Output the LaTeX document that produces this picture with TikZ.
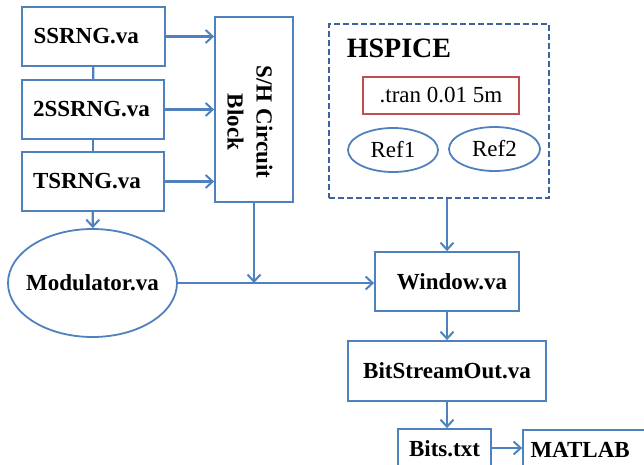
\documentclass[tikz,border=0pt]{standalone}
\usepackage{fontspec}
\setmainfont{Liberation Serif}
\usetikzlibrary{arrows.meta,shapes.geometric}
\definecolor{boxblue}{HTML}{4F81BD}
\definecolor{dashblue}{HTML}{3C649C}
\definecolor{boxred}{HTML}{C0504D}

\begin{document}
\begin{tikzpicture}[x=1pt, y=-1pt,
    box/.style={draw=boxblue, line width=1.8pt, rectangle, inner sep=0pt,
      font=\fontsize{23}{27}\selectfont\bfseries},
    oval/.style={draw=boxblue, line width=1.8pt, ellipse, inner sep=0pt},
    link/.style={draw=boxblue, line width=2.2pt},
    arr/.style={link, -{Straight Barb[length=7pt, width=13pt, line width=2pt]}}]
    \useasboundingbox (0,0) rectangle (644,464);
    \node [box, minimum width=143pt, minimum height=59pt, text width=120pt, align=left] (a) at (93.5, 36.5) {SSRNG.va};
    \node [box, minimum width=142pt, minimum height=59pt, text width=120pt, align=left] (b) at (93.0, 109.5) {2SSRNG.va};
    \node [box, minimum width=142pt, minimum height=59pt, text width=120pt, align=left] (c) at (93.0, 181.5) {TSRNG.va};
    \node [box, minimum width=78pt, minimum height=185pt] (d) at (254.0, 109.5) {};
    \node [rotate=-90, align=center, font=\fontsize{23}{29}\selectfont\bfseries] (d1) at (250.0, 122.0) {S/H Circuit\\Block};
    \node [oval, minimum width=169pt, minimum height=108pt, inner xsep=-12pt, font=\fontsize{23}{27}\selectfont\bfseries] (e) at (92.5, 283.0) {Modulator.va};
    \draw [link] (a) -- (b);
    \draw [link] (b) -- (c);
    \draw [arr] (c) -- (e);
    \draw [arr] (a.east) -- (a.east -| d.west);
    \draw [arr] (b.east) -- (b.east -| d.west);
    \draw [arr] (c.east) -- (c.east -| d.west);
    % HSPICE block
    \node [draw=dashblue, dash pattern=on 6pt off 3pt, line width=1.8pt, minimum width=220pt, minimum height=174pt] (f) at (439.0, 111.0) {};
    \node [font=\fontsize{28}{32}\selectfont\bfseries] (g) at (399.0, 48.0) {HSPICE};
    \node [draw=boxred, line width=1.8pt, minimum width=156pt, minimum height=37pt, inner sep=0pt, font=\fontsize{23}{27}\selectfont] (h) at (441.0, 95.5) {.tran 0.01 5m};
    \node [oval, minimum width=90pt, minimum height=44pt, font=\fontsize{23}{27}\selectfont] (i) at (393.0, 150.0) {Ref1};
    \node [oval, minimum width=91pt, minimum height=44pt, font=\fontsize{23}{27}\selectfont] (j) at (494.5, 149.0) {Ref2};
    % output chain
    \node [box, minimum width=144pt, minimum height=59pt, text width=120pt, align=right] (k) at (447.0, 281.5) {Window.va};
    \node [box, minimum width=198pt, minimum height=60pt] (l) at (447.0, 371.0) {BitStreamOut.va};
    \node [box, minimum width=93pt, minimum height=40pt] (m) at (444.5, 449.0) {Bits.txt};
    \node [box, minimum width=127pt, minimum height=40pt, text width=112pt, align=left] (n) at (586.5, 450.0) {MATLAB};
    \draw [arr] (d.south) -- (d.south |- e.east);
    \draw [arr] (e.east) -- (e.east -| k.west);
    \draw [arr] (f.south -| k) -- (k.north);
    \draw [arr] (k) -- (l);
    \draw [arr] (l.south) -- (l.south |- m.north);
    \draw [arr] (m.east |- 0,448) -- (n.west |- 0,448);
  \end{tikzpicture}
\end{document}
